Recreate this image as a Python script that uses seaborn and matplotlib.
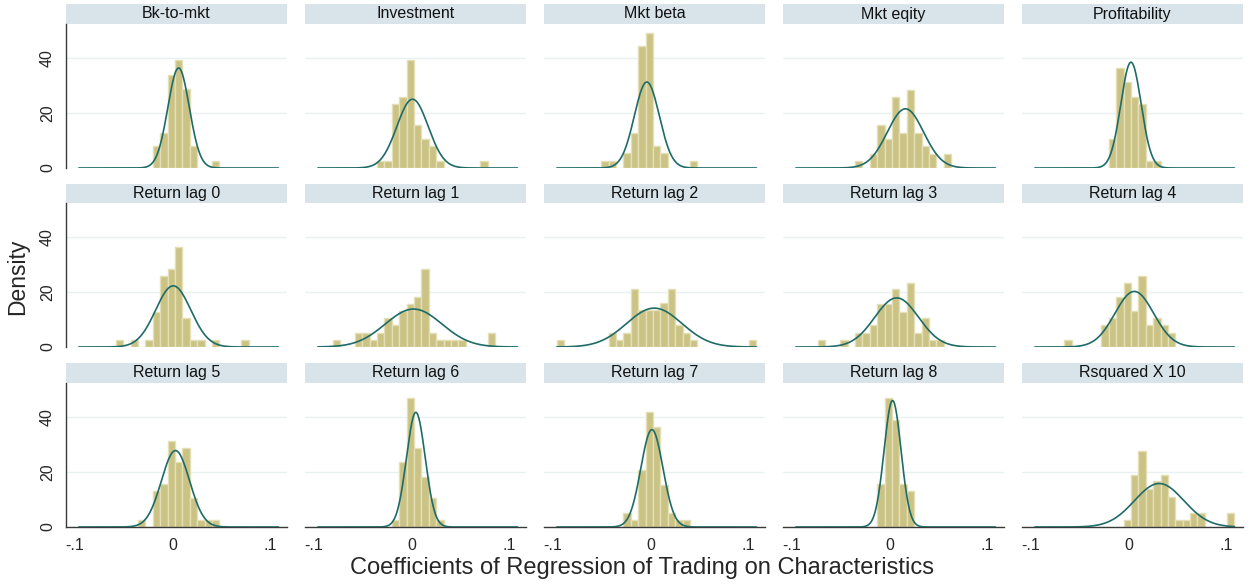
import numpy as np
import pandas as pd
import seaborn as sns
import matplotlib.pyplot as plt

# panel titles, in reading order
titles = ["Bk-to-mkt", "Investment", "Mkt beta", "Mkt eqity", "Profitability",
          "Return lag 0", "Return lag 1", "Return lag 2", "Return lag 3", "Return lag 4",
          "Return lag 5", "Return lag 6", "Return lag 7", "Return lag 8", "Rsquared X 10"]

# common histogram bins (27 bins over the pooled data range)
bin_lo, bin_hi, n_bins = -0.0958, 0.1087, 27

# bar heights (density) per bin
bk_to_mkt     = [0, 0, 0, 0, 0, 0, 0, 0, 0, 0, 8.0, 12.8, 33.6, 39.0, 28.5, 8.0, 0, 0, 2.7, 0, 0, 0, 0, 0, 0, 0, 0]
investment    = [0, 0, 0, 0, 0, 0, 0, 0, 2.7, 2.7, 23.3, 25.9, 39.0, 15.5, 10.4, 7.9, 2.7, 0, 0, 0, 0, 0, 2.7, 0, 0, 0, 0]
mkt_beta      = [0, 0, 0, 0, 0, 0, 2.7, 2.7, 0, 5.3, 12.8, 44.1, 49.1, 7.9, 5.3, 0, 0, 0, 2.7, 0, 0, 0, 0, 0, 0, 0, 0]
mkt_eqity     = [0, 0, 0, 0, 0, 0, 0, 0, 2.7, 0, 5.2, 15.5, 10.4, 25.9, 12.8, 28.4, 12.8, 7.9, 5.2, 0, 5.2, 0, 0, 0, 0, 0, 0]
profitability = [0, 0, 0, 0, 0, 0, 0, 0, 0, 0, 10.4, 36.4, 31.1, 25.9, 23.3, 2.7, 2.7, 0, 0, 0, 0, 0, 0, 0, 0, 0, 0]
ret_lag0      = [0, 0, 0, 0, 0, 2.7, 0, 2.7, 0, 2.7, 12.8, 25.9, 28.4, 36.4, 10.4, 2.7, 2.7, 0, 2.7, 0, 0, 0, 2.7, 0, 0, 0, 0]
ret_lag1      = [0, 0, 2.7, 0, 0, 5.2, 5.2, 2.7, 5.2, 10.4, 7.9, 12.9, 15.5, 18.2, 28.4, 5.2, 2.7, 2.7, 2.7, 2.7, 0, 0, 0, 5.2, 0, 0, 0]
ret_lag2      = [2.7, 0, 0, 0, 0, 0, 0, 5.2, 2.7, 5.2, 21.1, 13.3, 13.3, 13.3, 15.8, 21.1, 7.9, 5.2, 2.7, 0, 0, 0, 0, 0, 0, 0, 2.7]
ret_lag3      = [0, 0, 0, 2.7, 0, 0, 2.7, 0, 5.2, 5.2, 7.9, 15.5, 15.5, 20.9, 12.8, 23.3, 5.2, 10.4, 2.7, 2.7, 0, 0, 0, 0, 0, 0, 0]
ret_lag4      = [0, 0, 0, 0, 2.7, 0, 0, 0, 0, 7.9, 10.4, 18.2, 23.3, 12.9, 25.9, 7.9, 10.4, 7.9, 5.2, 0, 0, 0, 0, 0, 0, 0, 0]
ret_lag5      = [0, 0, 0, 0, 0, 0, 0, 0, 2.7, 0, 13.0, 15.5, 31.2, 23.4, 28.6, 10.5, 2.7, 2.7, 2.7, 0, 0, 0, 0, 0, 0, 0, 0]
ret_lag6      = [0, 0, 0, 0, 0, 0, 0, 0, 0, 0, 2.7, 23.5, 46.7, 28.6, 18.2, 10.5, 2.7, 0, 0, 0, 0, 0, 0, 0, 0, 0, 0]
ret_lag7      = [0, 0, 0, 0, 0, 0, 0, 0, 0, 5.2, 2.7, 20.6, 41.6, 36.1, 15.4, 5.2, 2.7, 2.7, 0, 0, 0, 0, 0, 0, 0, 0, 0]
ret_lag8      = [0, 0, 0, 0, 0, 0, 0, 0, 0, 0, 0, 15.5, 46.9, 38.8, 15.5, 13.0, 0, 0, 0, 0, 0, 0, 0, 0, 0, 0, 0]
rsq_x10       = [0, 0, 0, 0, 0, 0, 0, 0, 0, 0, 0, 0, 2.7, 19.0, 27.5, 13.6, 16.5, 19.0, 11.0, 2.7, 2.7, 5.2, 5.2, 0, 0, 0, 5.2]

heights = [bk_to_mkt, investment, mkt_beta, mkt_eqity, profitability,
           ret_lag0, ret_lag1, ret_lag2, ret_lag3, ret_lag4,
           ret_lag5, ret_lag6, ret_lag7, ret_lag8, rsq_x10]

# normal overlay: mean and sd for each panel
means = [0.0064, 0.0012, -0.0036, 0.0165, 0.0027,
         0.0009, 0.0023, 0.0040, 0.0075, 0.0061,
         0.0032, 0.0046, 0.0016, 0.0033, 0.0316]
sds = [0.0110, 0.0160, 0.0128, 0.0186, 0.0104,
       0.0180, 0.0290, 0.0283, 0.0224, 0.0198,
       0.0144, 0.0096, 0.0113, 0.0087, 0.0253]

bar_color = "#CBC385"
bar_edge = "#E4DFB4"
curve_color = "#1E6B68"
strip_color = "#D8E4EA"
grid_color = "#E9F1F3"
axis_color = "#3A3A3A"

sns.set_style("white")
plt.rcParams['font.family'] = ['Liberation Sans', 'DejaVu Sans']

W, H = 1251, 586
fig = plt.figure(figsize=(W / 100, H / 100), dpi=100)

col_left = [66, 305, 544, 783, 1022]
col_w = 221
strip_top = [4, 184, 363]
strip_bot = [24, 203, 383]
baseline = [168, 347, 527]

edges = np.linspace(bin_lo, bin_hi, n_bins + 1)
centers = (edges[:-1] + edges[1:]) / 2
xs = np.linspace(bin_lo, bin_hi, 400)

for i, title in enumerate(titles):
    r, c = divmod(i, 5)
    # strip
    sax = fig.add_axes([col_left[c] / W, 1 - strip_bot[r] / H, col_w / W, (strip_bot[r] - strip_top[r]) / H])
    sax.set_facecolor(strip_color)
    sax.set_xticks([])
    sax.set_yticks([])
    for s in sax.spines.values():
        s.set_visible(False)
    sax.text(0.5, 0.5, title, ha="center", va="center", fontsize=11.5, color="#111111")

    ax = fig.add_axes([col_left[c] / W, 1 - baseline[r] / H, col_w / W, (baseline[r] - strip_bot[r]) / H])
    df = pd.DataFrame({"x": centers, "h": heights[i]})
    sns.histplot(data=df, x="x", weights="h", bins=n_bins, binrange=(bin_lo, bin_hi), stat="count", ax=ax,
                 color=bar_color, edgecolor=bar_edge, linewidth=1, alpha=1, zorder=2)
    for p in ax.patches:
        if p.get_height() == 0:
            p.set_visible(False)
    dens = np.exp(-0.5 * ((xs - means[i]) / sds[i]) ** 2) / (sds[i] * np.sqrt(2 * np.pi))
    sns.lineplot(x=xs, y=dens, ax=ax, color=curve_color, linewidth=1.2, zorder=3)

    ax.set_xlim(-0.109, 0.1175)
    ax.set_ylim(0, 52.2)
    ax.set_yticks([0, 20, 40])
    ax.set_xticks([-0.1, 0, 0.1])
    ax.grid(axis="y", color=grid_color, linewidth=1, zorder=0)
    ax.set_axisbelow(True)
    ax.set_xlabel("")
    ax.set_ylabel("")
    for s in ax.spines.values():
        s.set_visible(False)
    ax.tick_params(length=0)

    if c == 0:
        ax.spines["left"].set_visible(True)
        ax.spines["left"].set_color(axis_color)
        ax.spines["left"].set_linewidth(1)
        ax.tick_params(axis="y", length=5, width=1, color=axis_color, pad=3, labelsize=11.5)
        ax.set_yticklabels(["0", "20", "40"], rotation=90, va="center")
    else:
        ax.set_yticklabels([])
    if r == 2:
        ax.spines["bottom"].set_visible(True)
        ax.spines["bottom"].set_color(axis_color)
        ax.spines["bottom"].set_linewidth(1)
        ax.tick_params(axis="x", length=5, width=1, color=axis_color, pad=3, labelsize=11.5)
        ax.set_xticklabels(["-.1", "0", ".1"])
    else:
        ax.set_xticklabels([])

fig.text(18 / W, 1 - 277 / H, "Density", rotation=90, ha="center", va="center", fontsize=16.5)
fig.text(642 / W, 1 - 568 / H, "Coefficients of Regression of Trading on Characteristics",
         ha="center", va="center", fontsize=17)

fig.savefig("out.png", dpi=100, facecolor="white")
